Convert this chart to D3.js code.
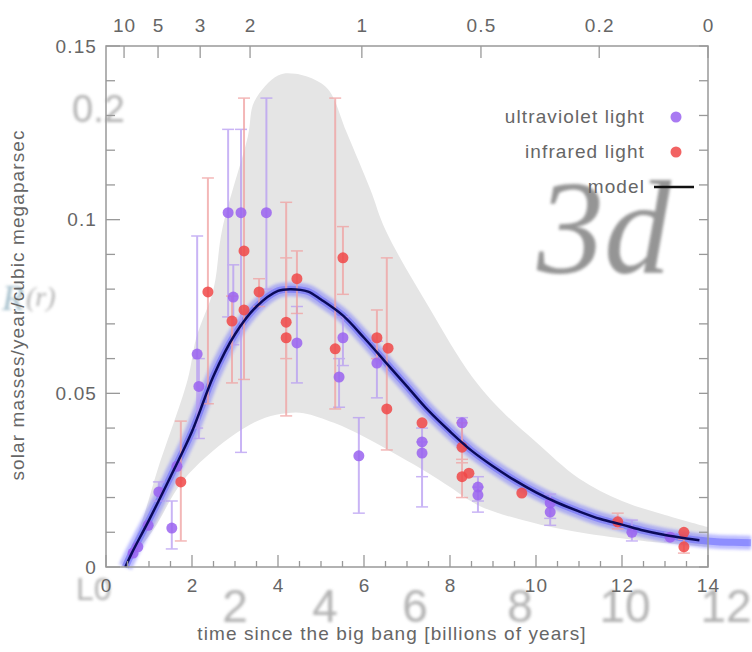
<!DOCTYPE html>
<html><head><meta charset="utf-8">
<script src="https://cdn.jsdelivr.net/npm/d3@7"></script>
<style>body{margin:0;background:#fff}svg{display:block}</style>
</head><body>
<svg id="c" width="752" height="652"></svg>
<script>
// ---- data ----
const xTicks = [0,2,4,6,8,10,12,14];
const yTicks = [0,0.05,0.1,0.15];
const yTickLabels = ["0","0.05","0.1","0.15"];
const zLabels = ["10","5","3","2","1","0.5","0.2","0"];
const zTimes = [0.42,1.21,2.19,3.35,5.95,8.72,11.47,14.0];

const modelT = [0.45,0.6,1.0,1.5,2.0,2.5,3.0,3.5,4.0,4.3,4.7,5.0,5.5,6.0,6.5,7.0,7.5,8.0,8.5,9.0,9.5,10.0,10.5,11.0,11.5,12.0,12.5,13.0,13.5,13.8];
const modelV = [0,0.004,0.0135,0.026,0.039,0.055,0.067,0.075,0.0795,0.080,0.0793,0.077,0.0725,0.066,0.059,0.052,0.045,0.039,0.0335,0.029,0.025,0.0215,0.0185,0.016,0.0138,0.0122,0.0105,0.0092,0.0082,0.0077];
const cloudTailT = [13.8,14.2,14.6,15.0];
const cloudTailV = [0.0077,0.0073,0.0071,0.0070];

const bandUpT = [0.35,0.8,1.2,1.9,2.1,2.5,2.7,3.3,3.45,4.0,4.4,4.9,5.2,5.6,6.15,6.5,7.5,8.5,9.2,10.0,11.0,12.0,13.0,14.0];
const bandUpV = [0,0.012,0.028,0.054,0.066,0.080,0.097,0.124,0.134,0.1415,0.142,0.140,0.137,0.125,0.1086,0.097,0.075,0.055,0.045,0.036,0.0255,0.019,0.015,0.0115];
const bandLoT = [0.45,1.1,1.8,2.9,3.7,4.2,4.6,5.3,6.0,6.8,7.5,8.0,8.7,10.0,11.0,12.5,13.8,14.0];
const bandLoV = [0,0.0107,0.025,0.0374,0.043,0.0443,0.0443,0.0415,0.0375,0.032,0.027,0.023,0.0175,0.0125,0.010,0.0075,0.006,0.0058];

// ultraviolet points: time, value, low, high (null = no bar)
const uvT  = [0.63,0.74,0.98,1.23,1.53,1.65,2.12,2.16,2.84,2.96,3.14,3.73,4.44,5.51,5.42,5.88,6.30,7.35,7.35,8.28,8.65,8.65,10.33,10.33,12.23,13.12];
const uvV  = [0.004,0.0058,0.012,0.0216,0.0112,0.029,0.0613,0.052,0.102,0.0777,0.102,0.102,0.0645,0.066,0.0547,0.032,0.0587,0.036,0.0328,0.0415,0.023,0.0207,0.0184,0.0158,0.010,0.0086];
const uvLo = [null,null,null,0.019,0.0052,null,0.040,0.037,0.072,0.064,0.033,0.080,0.053,0.058,0.046,0.0155,0.0487,0.026,0.0173,0.035,0.019,0.0158,0.014,0.012,0.0075,0.0075];
const uvHi = [null,null,null,0.0245,0.019,null,0.0953,0.060,0.126,0.087,0.126,0.135,0.075,0.072,0.060,0.043,0.065,0.040,0.036,0.043,0.026,0.023,0.021,0.019,0.0135,0.0098];

// infrared points
const irT  = [1.74,2.37,2.93,3.21,3.21,3.56,4.19,4.19,4.44,5.33,5.51,6.30,6.56,6.53,7.35,8.28,8.28,8.44,9.67,11.90,13.44,13.44];
const irV  = [0.0245,0.0792,0.0708,0.091,0.074,0.0792,0.0705,0.066,0.083,0.0628,0.089,0.066,0.063,0.0455,0.0415,0.0345,0.026,0.027,0.0213,0.013,0.010,0.0058];
const irLo = [0.0075,0.047,0.053,0.054,null,0.075,0.060,0.0435,0.073,0.0455,0.0785,0.060,null,0.0337,null,0.030,0.020,null,null,0.011,null,0.004];
const irHi = [0.042,0.112,0.078,0.135,null,0.083,0.105,0.089,0.091,0.135,0.098,0.074,null,0.089,null,0.0415,0.031,null,null,0.0155,null,0.008];

const legendLabels = ["ultraviolet light","infrared light","model"];

// ---- scales ----
const SANS = "'Liberation Sans', Arial, sans-serif";
const SERIF = "'Liberation Serif', 'DejaVu Serif', serif";
const svg = d3.select("#c").style("font-family", SANS);
const x = d3.scaleLinear().domain([0,14]).range([106,708]);
const y = d3.scaleLinear().domain([0,0.15]).range([567,46]);

const defs = svg.append("defs");
defs.append("filter").attr("id","blur2").append("feGaussianBlur").attr("stdDeviation",1.4);

// band
const pts = (ts,vs)=>ts.map((t,i)=>[x(t),y(vs[i])]);
const cr = d3.line().curve(d3.curveCatmullRom.alpha(0.5));
const up = pts(bandUpT,bandUpV), lo = pts(bandLoT,bandLoV).reverse();
svg.append("path").attr("d", cr(up) + "L" + cr(lo).slice(1) + "Z")
  .attr("fill","#e5e5e5").attr("stroke","none");

// ghost second axis
svg.append("line").attr("x1",127).attr("x2",127).attr("y1",93).attr("y2",572)
  .attr("stroke","#aaa").attr("stroke-width",3).attr("opacity",0.7).attr("filter","url(#blur2)");
svg.append("line").attr("x1",106).attr("x2",752).attr("y1",571).attr("y2",571)
  .attr("stroke","#bbb").attr("stroke-width",3).attr("opacity",0.7).attr("filter","url(#blur2)");

// ghost texts
const ghost = svg.append("g").attr("fill","#999").attr("filter","url(#blur2)").attr("opacity",0.75);
ghost.append("text").attr("x",72).attr("y",122).attr("font-size",38).text("0.2");
ghost.append("text").attr("x",2).attr("y",310).attr("font-size",36).style("font-family",SERIF).attr("font-style","italic").attr("fill","#8ab").text("R");
ghost.append("text").attr("x",26).attr("y",306).attr("font-size",28).style("font-family",SERIF).attr("font-style","italic").text("(r)");
ghost.append("text").attr("x",76).attr("y",600).attr("font-size",32).text("L0");
const ghostNums = ["2","4","6","8","10","12"];
const ghostX = [235,325,415,520,625,726];
ghostNums.forEach((s,i)=>ghost.append("text").attr("x",ghostX[i]).attr("y",622).attr("text-anchor","middle").attr("font-size",46).text(s));

// big 3d watermark
svg.append("text").attr("x",604).attr("y",273).attr("text-anchor","middle")
  .style("font-family",SERIF).attr("font-style","italic")
  .attr("font-size",134).attr("fill","#8a8a8a").attr("opacity",0.9).attr("filter","url(#blur2)").text("3d");

// blue cloud around model
const lin = d3.line().x(d=>x(d[0])).y(d=>y(d[1])).curve(d3.curveCatmullRom.alpha(0.5));
const modelPts = modelT.map((t,i)=>[t,modelV[i]]);
const cloudPts = modelPts.concat(cloudTailT.slice(1).map((t,i)=>[t,cloudTailV[i+1]]));
svg.append("path").attr("d",lin(cloudPts)).attr("fill","none")
  .attr("stroke","#6a6aff").attr("stroke-width",14).attr("opacity",0.45).attr("filter","url(#blur2)");
svg.append("path").attr("d",lin(cloudPts)).attr("fill","none")
  .attr("stroke","#4b4bff").attr("stroke-width",7).attr("opacity",0.4);

// error bars
function bars(T,V,L,H,col){
  const g = svg.append("g").attr("stroke",col).attr("stroke-width",2).attr("opacity",0.75);
  T.forEach((t,i)=>{
    if(L[i]==null) return;
    const cx = x(t);
    g.append("line").attr("x1",cx).attr("x2",cx).attr("y1",y(L[i])).attr("y2",y(H[i]));
    [L[i],H[i]].forEach(v=>g.append("line").attr("x1",cx-6).attr("x2",cx+6).attr("y1",y(v)).attr("y2",y(v)).attr("stroke-width",1.5));
  });
}
bars(uvT,uvV,uvLo,uvHi,"#b79cf2");
bars(irT,irV,irLo,irHi,"#f0a0a0");

// points
function dots(T,V,col){
  svg.append("g").selectAll("circle").data(T).join("circle")
    .attr("cx",(d)=>x(d)).attr("cy",(d,i)=>y(V[i])).attr("r",5.5)
    .attr("fill",col).attr("opacity",0.85);
}
dots(uvT,uvV,"#9a63f0");
dots(irT,irV,"#f04848");

// model line
svg.append("path").attr("d",lin(modelPts)).attr("fill","none")
  .attr("stroke","#0b0b5a").attr("stroke-width",2.5);

// frame
svg.append("rect").attr("x",106).attr("y",46).attr("width",602).attr("height",521)
  .attr("fill","none").attr("stroke","#999").attr("stroke-width",1.5);

const LBL = {size:19, ls:1.1, col:"#666"};
function styleText(sel){ sel.attr("font-size",LBL.size).attr("fill",LBL.col).style("letter-spacing",LBL.ls+"px").style("font-family",SANS); }

// left axis
const yAxis = d3.axisLeft(y).tickValues(yTicks).tickFormat((d,i)=>yTickLabels[i]).tickSize(0).tickPadding(9);
const gy = svg.append("g").attr("transform","translate(106,0)").call(yAxis);
gy.select(".domain").remove();
styleText(gy.selectAll("text"));
const minorY = d3.range(0,0.1501,0.01);
svg.append("g").selectAll("line").data(minorY).join("line")
  .attr("x1",106).attr("x2",(d,i)=>106+(i%5===0?14:9)).attr("y1",d=>y(d)).attr("y2",d=>y(d))
  .attr("stroke","#999").attr("stroke-width",1.3);
svg.append("g").selectAll("line").data(minorY).join("line")
  .attr("x1",708).attr("x2",699).attr("y1",d=>y(d)).attr("y2",d=>y(d))
  .attr("stroke","#999").attr("stroke-width",1.3);

// bottom axis
const xAxis = d3.axisBottom(x).tickValues(xTicks).tickSize(0).tickPadding(12);
const gx = svg.append("g").attr("transform","translate(0,567)").call(xAxis);
gx.select(".domain").remove();
styleText(gx.selectAll("text"));
const minorX = d3.range(0,14.01,0.5);
svg.append("g").selectAll("line").data(minorX).join("line")
  .attr("x1",d=>x(d)).attr("x2",d=>x(d)).attr("y1",567).attr("y2",d=>567-(d%2===0?12:6))
  .attr("stroke","#999").attr("stroke-width",1.3);

// top redshift axis
const xTop = d3.axisTop(x).tickValues(zTimes).tickFormat((d,i)=>zLabels[i]).tickSize(0).tickPadding(14);
const gt = svg.append("g").attr("transform","translate(0,46)").call(xTop);
gt.select(".domain").remove();
styleText(gt.selectAll("text"));
svg.append("g").selectAll("line").data(zTimes).join("line")
  .attr("x1",d=>x(d)).attr("x2",d=>x(d)).attr("y1",46).attr("y2",58)
  .attr("stroke","#999").attr("stroke-width",1.3);

// axis titles
styleText(svg.append("text").attr("x",392).attr("y",640).attr("text-anchor","middle")
  .text("time since the big bang [billions of years]"));
styleText(svg.append("text").attr("transform","translate(24,305) rotate(-90)").attr("text-anchor","middle")
  .text("solar masses/year/cubic megaparsec"));

// legend
const legY = [117,152,187];
const lg = svg.append("g");
legendLabels.forEach((s,i)=>styleText(lg.append("text").attr("x",645).attr("y",legY[i]+6).attr("text-anchor","end").text(s)));
lg.append("circle").attr("cx",676).attr("cy",legY[0]).attr("r",5.5).attr("fill","#9a63f0").attr("opacity",0.85);
lg.append("circle").attr("cx",676).attr("cy",legY[1]).attr("r",5.5).attr("fill","#f04848").attr("opacity",0.85);
lg.append("line").attr("x1",654).attr("x2",694).attr("y1",legY[2]).attr("y2",legY[2]).attr("stroke","#111").attr("stroke-width",2.5);
</script>
</body></html>
